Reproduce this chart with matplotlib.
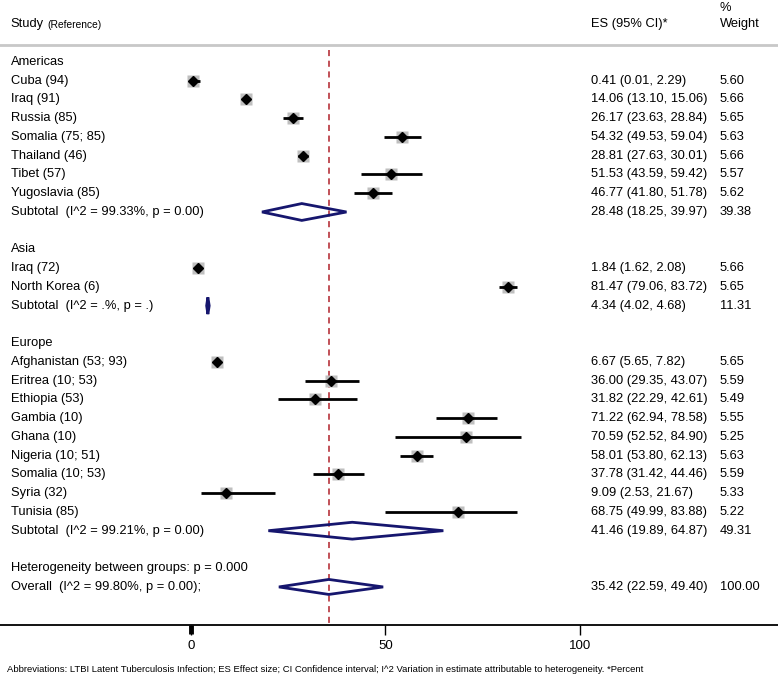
import matplotlib
matplotlib.use('Agg')
import matplotlib.pyplot as plt
from matplotlib.patches import Polygon
import matplotlib.transforms as mtransforms

plt.rcParams['font.family'] = ['Liberation Sans', 'DejaVu Sans']

# study rows: (label, es, lo, hi, weight)
americas_labels = ['Cuba (94)', 'Iraq (91)', 'Russia (85)', 'Somalia (75; 85)',
                   'Thailand (46)', 'Tibet (57)', 'Yugoslavia (85)']
americas_es = [0.41, 14.06, 26.17, 54.32, 28.81, 51.53, 46.77]
americas_lo = [0.01, 13.10, 23.63, 49.53, 27.63, 43.59, 41.80]
americas_hi = [2.29, 15.06, 28.84, 59.04, 30.01, 59.42, 51.78]
americas_w = [5.60, 5.66, 5.65, 5.63, 5.66, 5.57, 5.62]

asia_labels = ['Iraq (72)', 'North Korea (6)']
asia_es = [1.84, 81.47]
asia_lo = [1.62, 79.06]
asia_hi = [2.08, 83.72]
asia_w = [5.66, 5.65]

europe_labels = ['Afghanistan (53; 93)', 'Eritrea (10; 53)', 'Ethiopia (53)', 'Gambia (10)',
                 'Ghana (10)', 'Nigeria (10; 51)', 'Somalia (10; 53)', 'Syria (32)', 'Tunisia (85)']
europe_es = [6.67, 36.00, 31.82, 71.22, 70.59, 58.01, 37.78, 9.09, 68.75]
europe_lo = [5.65, 29.35, 22.29, 62.94, 52.52, 53.80, 31.42, 2.53, 49.99]
europe_hi = [7.82, 43.07, 42.61, 78.58, 84.90, 62.13, 44.46, 21.67, 83.88]
europe_w = [5.65, 5.59, 5.49, 5.55, 5.25, 5.63, 5.59, 5.33, 5.22]

group_names = ['Americas', 'Asia', 'Europe']
subtotal_labels = ['Subtotal  (I^2 = 99.33%, p = 0.00)', 'Subtotal  (I^2 = .%, p = .)',
                   'Subtotal  (I^2 = 99.21%, p = 0.00)']
subtotal_es = [28.48, 4.34, 41.46]
subtotal_lo = [18.25, 4.02, 19.89]
subtotal_hi = [39.97, 4.68, 64.87]
subtotal_w = [39.38, 11.31, 49.31]

overall_es, overall_lo, overall_hi = 35.42, 22.59, 49.40
overall_label = 'Overall  (I^2 = 99.80%, p = 0.00);'
het_label = 'Heterogeneity between groups: p = 0.000'

groups = [
    (americas_labels, americas_es, americas_lo, americas_hi, americas_w),
    (asia_labels, asia_es, asia_lo, asia_hi, asia_w),
    (europe_labels, europe_es, europe_lo, europe_hi, europe_w),
]

fig = plt.figure(figsize=(7.78, 6.76), dpi=100)
ax = fig.add_axes([0, 51 / 676, 1, 625 / 676])
ymax = 31.03
ax.set_xlim(-49.1, 150.9)
ax.set_ylim(ymax, -2.307)
trans = mtransforms.blended_transform_factory(ax.transAxes, ax.transData)

fs = 9.3
col_lab = 0.014
col_es = 0.759
col_w = 0.925
diamond_col = '#16166e'


def fmt(es, lo, hi):
    return '%.2f (%.2f, %.2f)' % (es, lo, hi)


def diamond(es, lo, hi, row, h=0.45):
    ax.add_patch(Polygon([[lo, row], [es, row - h], [hi, row], [es, row + h]],
                         closed=True, fill=False, edgecolor=diamond_col, lw=2, zorder=4))


# header
ax.text(col_lab, -1.03, 'Study', transform=trans, fontsize=fs, va='center')
ax.text(0.0605, -1.0, '(Reference)', transform=trans, fontsize=7.4, va='center')
ax.text(col_es, -1.03, 'ES (95% CI)*', transform=trans, fontsize=fs, va='center')
ax.text(col_w, -1.03, 'Weight', transform=trans, fontsize=fs, va='center')
ax.text(col_w, -1.88, '%', transform=trans, fontsize=fs, va='center')
ax.plot([0, 1], [0.09, 0.09], transform=trans, color='#c8c8c8', lw=2, clip_on=False)

row = 1
for gi, (labels, es, lo, hi, w) in enumerate(groups):
    ax.text(col_lab, row, group_names[gi], transform=trans, fontsize=fs, va='center')
    row += 1
    for lab, e, l, h, wt in zip(labels, es, lo, hi, w):
        ax.text(col_lab, row, lab, transform=trans, fontsize=fs, va='center')
        ax.plot([l, h], [row, row], color='black', lw=2, zorder=3, solid_capstyle='butt')
        ax.plot(e, row, marker='s', ms=9.3 * (wt / 5.6) ** 0.5, color='#bfbfbf', mec='none', zorder=2)
        ax.plot(e, row, marker='D', ms=4.8, color='black', zorder=4)
        ax.text(col_es, row, fmt(e, l, h), transform=trans, fontsize=fs, va='center')
        ax.text(col_w, row, '%.2f' % wt, transform=trans, fontsize=fs, va='center')
        row += 1
    ax.text(col_lab, row, subtotal_labels[gi], transform=trans, fontsize=fs, va='center')
    diamond(subtotal_es[gi], subtotal_lo[gi], subtotal_hi[gi], row)
    ax.text(col_es, row, fmt(subtotal_es[gi], subtotal_lo[gi], subtotal_hi[gi]),
            transform=trans, fontsize=fs, va='center')
    ax.text(col_w, row, '%.2f' % subtotal_w[gi], transform=trans, fontsize=fs, va='center')
    row += 2

ax.text(col_lab, row, het_label, transform=trans, fontsize=fs, va='center')
row += 1
ax.text(col_lab, row, overall_label, transform=trans, fontsize=fs, va='center')
diamond(overall_es, overall_lo, overall_hi, row, h=0.4)
ax.text(col_es, row, fmt(overall_es, overall_lo, overall_hi), transform=trans, fontsize=fs, va='center')
ax.text(col_w, row, '100.00', transform=trans, fontsize=fs, va='center')

# overall reference line
ax.plot([overall_es, overall_es], [0.35, ymax], color='#b0202a', lw=1.1,
        dashes=(4, 3), zorder=1)

# axis
for s in ['top', 'left', 'right']:
    ax.spines[s].set_visible(False)
ax.spines['bottom'].set_linewidth(1.3)
ax.set_yticks([])
ax.set_xticks([0, 50, 100])
ax.tick_params(axis='x', direction='out', length=7, width=1, labelsize=9.5, pad=4)
ax.plot([0, 0], [ymax, ymax + 0.5], color='black', lw=3.5, clip_on=False, solid_capstyle='butt')

fig.text(7 / 778, 1 - 669 / 676,
         'Abbreviations: LTBI Latent Tuberculosis Infection; ES Effect size; CI Confidence interval; '
         'I^2 Variation in estimate attributable to heterogeneity. *Percent',
         fontsize=6.8, va='center')

plt.savefig('out.png', dpi=100)
